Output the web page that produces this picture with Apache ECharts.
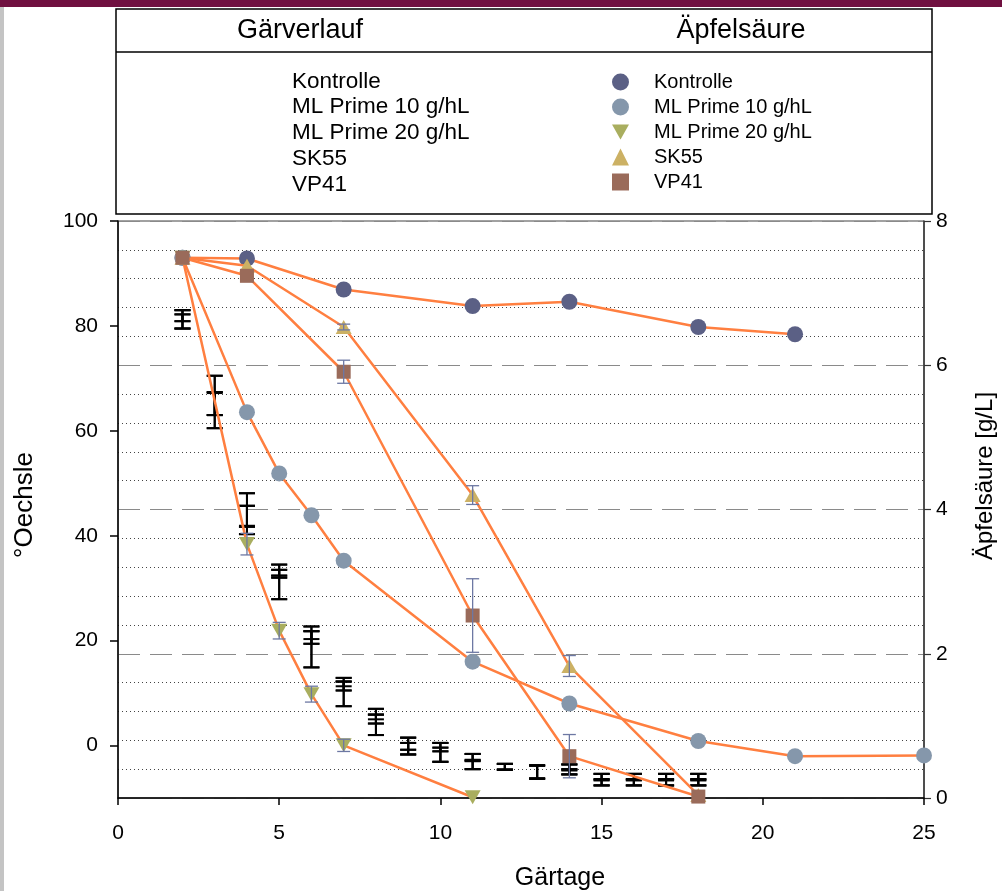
<!DOCTYPE html>
<html>
<head>
<meta charset="utf-8">
<script src="https://cdn.jsdelivr.net/npm/echarts@6/dist/echarts.min.js"></script>
<style>
html,body{margin:0;padding:0;background:#fff;}
#chart{width:1002px;height:891px;}
</style>
</head>
<body>
<div id="chart"></div>
<script>
// ---------- data ----------
const treatments = ['Kontrolle', 'ML Prime 10 g/hL', 'ML Prime 20 g/hL', 'SK55', 'VP41'];

// Äpfelsäure (g/L, right axis)
const kontrolleDays = [2, 4, 7, 11, 14, 18, 21];
const kontrolleMalic = [7.49, 7.48, 7.05, 6.82, 6.88, 6.53, 6.43];
const kontrolleMalicSd = [0, 0, 0, 0, 0, 0, 0];

const ml10Days = [2, 4, 5, 6, 7, 11, 14, 18, 21, 25];
const ml10Malic = [7.49, 5.35, 4.50, 3.92, 3.29, 1.89, 1.31, 0.79, 0.58, 0.59];
const ml10MalicSd = [0, 0, 0, 0, 0, 0, 0, 0, 0, 0];

const ml20Days = [2, 4, 5, 6, 7, 11];
const ml20Malic = [7.49, 3.52, 2.32, 1.44, 0.73, 0.01];
const ml20MalicSd = [0, 0.15, 0.115, 0.11, 0.085, 0];

const sk55Days = [2, 4, 7, 11, 14, 18];
const sk55Malic = [7.49, 7.38, 6.53, 4.20, 1.83, 0.04];
const sk55MalicSd = [0, 0, 0.04, 0.13, 0.145, 0];

const vp41Days = [2, 4, 7, 11, 14, 18];
const vp41Malic = [7.49, 7.24, 5.91, 2.53, 0.58, 0.02];
const vp41MalicSd = [0, 0, 0.16, 0.51, 0.30, 0];

// Gärverlauf (°Oechsle, left axis) – mean and standard deviation per day
const gaerDays = [2, 3, 4, 5, 6, 7, 8, 9, 10, 11, 12, 13, 14, 15, 16, 17, 18];
const gaerKontrolle = [81.25, 65.5, 44.2, 31.2, 18.8, 10.2, 4.5, -0.1, -1.3, -3.05, -4.05, -5.05, -4.55, -6.5, -6.5, -6.5, -6.5];
const gaerKontrolleSd = [1.75, 5.0, 3.9, 3.3, 3.9, 2.7, 2.5, 1.6, 1.8, 1.45, 0.55, 1.25, 0.95, 1.1, 1.1, 1.1, 1.1];
const gaerMl10 = [81.55, 65.2, 43.7, 32.75, 20.6, 11.35, 5.05, -0.15, -0.75, -2.85, -4.05, -5.05, -4.6, -6.5, -6.5, -6.5, -6.5];
const gaerMl10Sd = [0.65, 2.2, 2.0, 0.75, 1.2, 0.85, 0.85, 0.65, 0.35, 0.12, 0.55, 1.25, 0.12, 0.12, 0.12, 0.12, 0.12];
const gaerMl20 = [81.25, 65.1, 43.8, 32.95, 21.05, 11.75, 5.45, -0.1, -1.3, -3.05, -4.05, -5.05, -4.55, -6.5, -6.5, -6.5, -6.5];
const gaerMl20Sd = [1.75, 2.1, 1.9, 0.55, 0.75, 0.45, 0.45, 1.6, 1.8, 1.45, 0.55, 1.25, 0.95, 1.1, 1.1, 1.1, 1.1];
const gaerSk55 = [81.25, 65.5, 44.2, 31.2, 18.8, 10.2, 4.5, -0.1, -1.3, -3.05, -4.05, -5.05, -4.55, -6.5, -6.5, -6.5, -6.5];
const gaerSk55Sd = [1.75, 5.0, 3.9, 3.3, 3.9, 2.7, 2.5, 1.6, 1.8, 1.45, 0.55, 1.25, 0.95, 1.1, 1.1, 1.1, 1.1];
const gaerVp41 = [81.55, 65.2, 43.7, 32.2, 20.6, 11.35, 5.05, -0.15, -0.75, -2.85, -4.05, -5.05, -4.6, -6.5, -6.5, -6.5, -6.5];
const gaerVp41Sd = [0.65, 2.2, 2.0, 0.2, 1.2, 0.85, 0.85, 0.65, 0.35, 0.12, 0.55, 1.25, 0.12, 0.12, 0.12, 0.12, 0.12];

// axis ticks
const xTicks = [0, 5, 10, 15, 20, 25];
const leftTicks = [0, 20, 40, 60, 80, 100];

// ---------- styles ----------
const FONT = '"Liberation Sans", Arial, sans-serif';
const markerColors = ['#5b6085', '#8597ab', '#a9ae5f', '#ccb164', '#9a6b5a'];
const markerSymbols = ['circle', 'circle', 'path://M0,0L2,0L1,1.75Z', 'triangle', 'rect'];
const markerSizes = [16, 16, [16, 14], [16, 14], 14];
const lineColor = '#ff7f40';
const malicErrColor = '#6d78a3';

const malicSets = [
  [kontrolleDays, kontrolleMalic, kontrolleMalicSd],
  [ml10Days, ml10Malic, ml10MalicSd],
  [ml20Days, ml20Malic, ml20MalicSd],
  [sk55Days, sk55Malic, sk55MalicSd],
  [vp41Days, vp41Malic, vp41MalicSd]
];
const gaerSets = [
  [gaerKontrolle, gaerKontrolleSd],
  [gaerMl10, gaerMl10Sd],
  [gaerMl20, gaerMl20Sd],
  [gaerSk55, gaerSk55Sd],
  [gaerVp41, gaerVp41Sd]
];

function errorBarSeries(name, yAxisIndex, data, color, lineWidth, capHalf, z) {
  return {
    name: name,
    type: 'custom',
    xAxisIndex: 0,
    yAxisIndex: yAxisIndex,
    z: z,
    silent: true,
    encode: { x: 0, y: [1, 2] },
    data: data,
    renderItem: function (params, api) {
      const x = api.value(0);
      const lo = api.coord([x, api.value(1)]);
      const hi = api.coord([x, api.value(2)]);
      const st = { stroke: color, lineWidth: lineWidth };
      return {
        type: 'group',
        children: [
          { type: 'line', shape: { x1: lo[0], y1: lo[1], x2: hi[0], y2: hi[1] }, style: st },
          { type: 'line', shape: { x1: lo[0] - capHalf, y1: lo[1], x2: lo[0] + capHalf, y2: lo[1] }, style: st },
          { type: 'line', shape: { x1: hi[0] - capHalf, y1: hi[1], x2: hi[0] + capHalf, y2: hi[1] }, style: st }
        ]
      };
    }
  };
}

const series = [];
// Gärverlauf error bars (black)
gaerSets.forEach(function (set, i) {
  const data = gaerDays.map(function (d, k) { return [d, set[0][k] - set[1][k], set[0][k] + set[1][k]]; });
  series.push(errorBarSeries(treatments[i] + ' (Gärverlauf)', 0, data, '#000', 2, 8, 3));
});
// Äpfelsäure lines with markers
malicSets.forEach(function (set, i) {
  series.push({
    name: treatments[i],
    type: 'line',
    xAxisIndex: 0,
    yAxisIndex: 1,
    z: 4 + i,
    data: set[0].map(function (d, k) { return [d, set[1][k]]; }),
    symbol: markerSymbols[i],
    symbolSize: markerSizes[i],
    showAllSymbol: true,
    itemStyle: { color: markerColors[i], opacity: 1 },
    lineStyle: { color: lineColor, width: 2.5 },
    emphasis: { disabled: true },
    animation: false
  });
});
// Äpfelsäure error bars
malicSets.forEach(function (set, i) {
  const data = [];
  set[0].forEach(function (d, k) {
    if (set[2][k] > 0) data.push([d, set[1][k] - set[2][k], set[1][k] + set[2][k]]);
  });
  series.push(errorBarSeries(treatments[i] + ' (Äpfelsäure SD)', 1, data, malicErrColor, 1.3, 6.5, 10));
});

// ---------- graphics: frame & legend box ----------
const graphics = [
  { type: 'rect', shape: { x: 0, y: 0, width: 1002, height: 7 }, style: { fill: '#701040' }, z: 100 },
  { type: 'rect', shape: { x: 0, y: 7, width: 4, height: 884 }, style: { fill: '#c4c4c4' }, z: 100 },
  { type: 'rect', shape: { x: 116, y: 9, width: 816, height: 205 }, style: { fill: 'none', stroke: '#000', lineWidth: 1.5 }, z: 100 },
  { type: 'line', shape: { x1: 116, y1: 52, x2: 932, y2: 52 }, style: { stroke: '#000', lineWidth: 1.5 }, z: 100 },
  { type: 'text', x: 300, y: 31, z: 100, style: { text: 'Gärverlauf', font: '27px ' + FONT, fill: '#000', textAlign: 'center', textVerticalAlign: 'middle' } },
  { type: 'text', x: 741, y: 31, z: 100, style: { text: 'Äpfelsäure', font: '27px ' + FONT, fill: '#000', textAlign: 'center', textVerticalAlign: 'middle' } },
  { type: 'text', x: 25, y: 505, rotation: Math.PI / 2, z: 100, style: { text: '°Oechsle', font: '26px ' + FONT, fill: '#000', textAlign: 'center', textVerticalAlign: 'middle' } },
  { type: 'text', x: 985, y: 476, rotation: Math.PI / 2, z: 100, style: { text: 'Äpfelsäure [g/L]', font: '24px ' + FONT, fill: '#000', textAlign: 'center', textVerticalAlign: 'middle' } },
  { type: 'text', x: 560, y: 878, z: 100, style: { text: 'Gärtage', font: '25px ' + FONT, fill: '#000', textAlign: 'center', textVerticalAlign: 'middle' } }
];
const leftLegendY = [82, 107, 133, 159, 185];
treatments.forEach(function (t, i) {
  graphics.push({ type: 'text', x: 292, y: leftLegendY[i], z: 100,
    style: { text: t, font: '22.5px ' + FONT, fill: '#000', textAlign: 'left', textVerticalAlign: 'middle' } });
});

const chart = echarts.init(document.getElementById('chart'), null, { renderer: 'canvas' });
chart.setOption({
  animation: false,
  backgroundColor: '#fff',
  textStyle: { fontFamily: FONT },
  grid: { left: 118, top: 221, width: 806, height: 577, show: true, borderColor: '#444', borderWidth: 1, backgroundColor: 'transparent' },
  legend: {
    orient: 'vertical',
    left: 607,
    top: 67,
    itemWidth: 17,
    itemHeight: 17,
    itemGap: 5,
    selectedMode: false,
    textStyle: { fontSize: 20, fontFamily: FONT, color: '#000', padding: [0, 0, 0, 20] },
    data: treatments.map(function (t, i) {
      return { name: t, icon: markerSymbols[i], itemStyle: { color: markerColors[i] } };
    })
  },
  xAxis: {
    type: 'value',
    min: 0,
    max: 25,
    interval: 5,
    axisLine: { show: true, onZero: false, lineStyle: { color: '#000', width: 1.5 } },
    axisTick: { show: true, length: 7, lineStyle: { color: '#000', width: 1.5 } },
    axisLabel: { fontSize: 21, color: '#000', margin: 25, fontFamily: FONT,
      customValues: xTicks },
    splitLine: { show: false }
  },
  yAxis: [
    {
      type: 'value',
      position: 'left',
      min: -10,
      max: 100,
      axisLine: { show: true, onZero: false, lineStyle: { color: '#000', width: 1.5 } },
      axisTick: { show: true, length: 8, lineStyle: { color: '#000', width: 1.5 }, customValues: leftTicks },
      axisLabel: { fontSize: 21, color: '#000', margin: 20, fontFamily: FONT, customValues: leftTicks },
      splitLine: { show: false }
    },
    {
      type: 'value',
      position: 'right',
      min: 0,
      max: 8,
      interval: 2,
      axisLine: { show: true, onZero: false, lineStyle: { color: '#333', width: 1.5 } },
      axisTick: { show: true, length: 7, lineStyle: { color: '#333', width: 1.2 } },
      axisLabel: { fontSize: 21, color: '#000', margin: 12, fontFamily: FONT },
      splitLine: { show: true, lineStyle: { color: '#8a8a8a', width: 1.2, type: [22, 10] } },
      minorTick: { show: false, splitNumber: 5 },
      minorSplitLine: { show: true, lineStyle: { color: '#444', width: 1, type: [1, 3] } }
    }
  ],
  series: series,
  graphic: graphics
});
</script>
</body>
</html>
